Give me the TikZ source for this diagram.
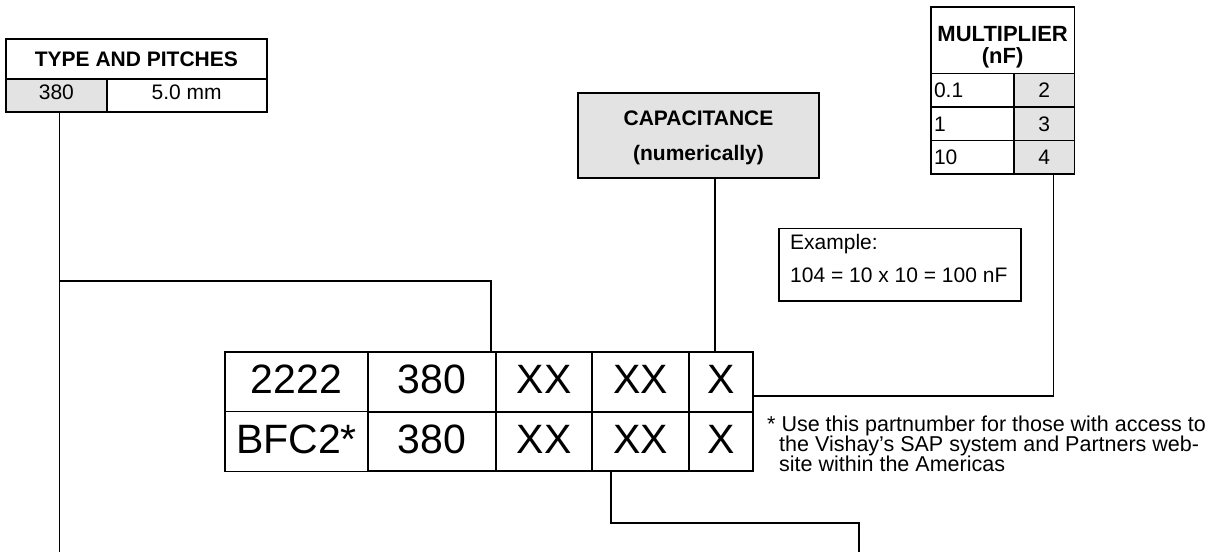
\documentclass[tikz,border=0pt]{standalone}
\usepackage{fontspec}
\setmainfont{Liberation Sans}
\usetikzlibrary{calc}
\newcommand\sfnt{\fontsize{21}{21}\selectfont}
\newcommand\nfnt{\fontsize{21.5}{21.5}\selectfont}
\newcommand\mfnt{\fontsize{22}{22}\selectfont}
\newcommand\bfnt{\fontsize{41}{41}\selectfont}
\definecolor{shadegray}{gray}{0.89}
\tikzset{
  cellbox/.style={draw=black, line width=1.6pt, inner sep=0pt, font=\sfnt, text height=15pt, text depth=0pt},
  tcell/.style={draw=black, line width=2.1pt, inner sep=0pt, font=\bfnt, text height=29.4pt, text depth=6pt, minimum height=59.7pt},
  tcellthin/.style={tcell, line width=1.4pt},
  shaded/.style={fill=shadegray},
  conn/.style={line width=1.3pt},
  lbl/.style={inner sep=0pt, font=\sfnt, anchor=base},
  hdr/.style={lbl, font=\sfnt\bfseries},
  leftcell/.style={cellbox, inner xsep=3pt, text width=77pt, align=left},
}
\begin{document}
\begin{tikzpicture}[x=1pt,y=-1pt]
\useasboundingbox (0,0) rectangle (1214,552);

% TYPE AND PITCHES
\node[cellbox, font=\sfnt\bfseries, minimum width=260.7pt, minimum height=40pt] (thead) at (136.35,59) {TYPE AND PITCHES};
\node[cellbox, shaded, text depth=7pt, minimum width=100.7pt, minimum height=32.7pt] (t380) at (56.35,95.35) {380};
\node[cellbox, text depth=7pt, minimum width=160pt, minimum height=32.7pt] (tpitch) at (186.7,95.35) {5.0 mm};

% CAPACITANCE
\node[cellbox, shaded, minimum width=241pt, minimum height=85pt] (capbox) at (698.5,135.5) {};
\node[hdr] (capt1) at (698.5,125) {CAPACITANCE};
\node[hdr] (capt2) at (698.5,160) {(numerically)};

% MULTIPLIER
\node[cellbox, minimum width=143.3pt, minimum height=66.6pt] (mhead) at (1002.65,40) {};
\node[hdr, font=\mfnt\bfseries] (mh1) at (1002.65,41.5) {MULTIPLIER};
\node[hdr, font=\mfnt\bfseries] (mh2) at (1002.65,63.5) {(nF)};
\node[leftcell, minimum height=33.6pt] (m1l) at (972.5,90.1) {0.1};
\node[leftcell, minimum height=33.6pt] (m2l) at (972.5,123.7) {1};
\node[leftcell, minimum height=33.6pt] (m3l) at (972.5,157.2) {10};
\node[cellbox, shaded, minimum width=60.3pt, minimum height=33.6pt] (m1r) at (1044.15,90.1) {2};
\node[cellbox, shaded, minimum width=60.3pt, minimum height=33.6pt] (m2r) at (1044.15,123.7) {3};
\node[cellbox, shaded, minimum width=60.3pt, minimum height=33.6pt] (m3r) at (1044.15,157.2) {4};

% Example
\node[cellbox, minimum width=242pt, minimum height=72.5pt] (ex) at (900,264.75) {};
\node[lbl, anchor=base west] (ex1) at (790,249) {Example:};
\node[lbl, anchor=base west] (ex2) at (790,282.7) {104 = 10 x 10 = 100 nF};

% Part number table
\node[tcellthin, minimum width=143pt] (r1c1) at (296.5,381.75) {2222};
\node[tcellthin, minimum width=143pt] (r2c1) at (296.5,441.5) {BFC2*};
\node[tcell, minimum width=128pt] (r1c2) at (432,381.75) {380};
\node[tcell, minimum width=96pt] (r1c3) at (544,381.75) {XX};
\node[tcell, minimum width=97pt] (r1c4) at (640.5,381.75) {XX};
\node[tcell, minimum width=64pt] (r1c5) at (721,381.75) {X};
\node[tcell, minimum width=128pt] (r2c2) at (432,441.5) {380};
\node[tcell, minimum width=96pt] (r2c3) at (544,441.5) {XX};
\node[tcell, minimum width=97pt] (r2c4) at (640.5,441.5) {XX};
\node[tcell, minimum width=64pt] (r2c5) at (721,441.5) {X};

% Note
\node[lbl, font=\nfnt, anchor=base west] (n1) at (767,431.5) {* Use this partnumber for those with access to};
\node[lbl, font=\nfnt, anchor=base west] (n2) at (779,451.5) {the Vishay’s SAP system and Partners web-};
\node[lbl, font=\nfnt, anchor=base west] (n3) at (779,471) {site within the Americas};

% Connectors
\coordinate (bendA) at (491,281);
\coordinate (endA) at (59.35,552);
\draw[conn] ([xshift=3pt]t380.south) -- (endA);
\draw[conn] (endA |- bendA) -| (bendA |- r1c2.north);

\coordinate (capx) at (715,0);
\draw[conn] (capx |- capbox.south) -- (capx |- r1c5.north);

\coordinate (mbend) at (1053.3,396);
\draw[conn] (mbend |- m3r.south) |- (r1c5.east |- mbend);

\coordinate (bbend) at (611,523);
\coordinate (bend2) at (859,552);
\draw[conn] (bbend |- r2c4.south) |- (bend2 |- bbend) -- (bend2);
\end{tikzpicture}
\end{document}
